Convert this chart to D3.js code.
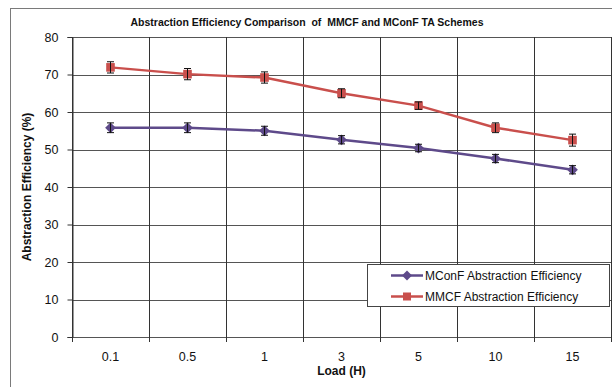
<!DOCTYPE html>
<html>
<head>
<meta charset="utf-8">
<script src="https://cdn.jsdelivr.net/npm/d3@7"></script>
<style>
  body { margin: 0; background: #fff; }
  svg { display: block; font-family: "Liberation Sans", Arial, sans-serif; }
</style>
</head>
<body>
<div id="chart"></div>
<script>
// data
var loads = ["0.1", "0.5", "1", "3", "5", "10", "15"];
var mconf = [55.8, 55.8, 55.0, 52.6, 50.4, 47.6, 44.6];
var mconfErr = [1.3, 1.3, 1.2, 1.1, 1.0, 1.1, 1.1];
var mmcf = [71.9, 70.1, 69.2, 65.0, 61.7, 55.8, 52.5];
var mmcfErr = [1.5, 1.5, 1.5, 1.2, 1.0, 1.3, 1.6];
var yTicks = [0, 10, 20, 30, 40, 50, 60, 70, 80];

//svg dimensions
var svgWidth = 612;
var svgHeight = 387;
var margin = { top: 37, right: 1, bottom: 50, left: 72 };
var width = svgWidth - margin.left - margin.right;
var height = svgHeight - margin.top - margin.bottom;

var svg = d3.select("#chart").append("svg")
    .attr("width", svgWidth)
    .attr("height", svgHeight);

//outer chart border
svg.append("rect")
    .attr("x", 10.5).attr("y", 8.5)
    .attr("width", svgWidth).attr("height", svgHeight)
    .attr("fill", "none")
    .attr("stroke", "#7a7a7a");

var chartGroup = svg.append("g")
    .attr("transform", `translate(${margin.left}, ${margin.top})`);

//scales
var xScale = d3.scaleBand().domain(loads).range([0, width]);
var yScale = d3.scaleLinear().domain([0, 80]).range([height, 0]);

//horizontal gridlines
chartGroup.selectAll(".hgrid")
    .data(yTicks)
    .enter()
    .append("line")
    .attr("x1", 0).attr("x2", width)
    .attr("y1", d => Math.round(yScale(d)) + 0.5)
    .attr("y2", d => Math.round(yScale(d)) + 0.5)
    .attr("stroke", "#555");

//vertical gridlines at band edges
var edges = loads.map(d => xScale(d)).concat([width]);
chartGroup.selectAll(".vgrid")
    .data(edges)
    .enter()
    .append("line")
    .attr("x1", d => Math.round(d) + 0.5)
    .attr("x2", d => Math.round(d) + 0.5)
    .attr("y1", 0).attr("y2", height + 5)
    .attr("stroke", "#333");

//y axis
var yAxis = chartGroup.append("g")
    .attr("transform", "translate(0.5,0)")
    .call(d3.axisLeft(yScale).tickValues(yTicks).tickSize(5).tickPadding(9));
yAxis.select(".domain").attr("stroke", "#333");
yAxis.selectAll("line").attr("stroke", "#333");
yAxis.selectAll("text").attr("font-size", "12.5px").attr("fill", "#111")
    .attr("font-family", "Liberation Sans, Arial, sans-serif");

//x tick labels
chartGroup.selectAll(".xlab")
    .data(loads)
    .enter()
    .append("text")
    .attr("x", d => xScale(d) + xScale.bandwidth() / 2)
    .attr("y", height + 24)
    .attr("text-anchor", "middle")
    .attr("font-size", "12.5px")
    .attr("fill", "#111")
    .text(d => d);

//line generators
var lineGen = d3.line()
    .x((d, i) => xScale(loads[i]) + xScale.bandwidth() / 2)
    .y(d => yScale(d));

var series = [
    { name: "MConF Abstraction Efficiency", values: mconf, err: mconfErr, color: "#5e4a8a", shape: "diamond" },
    { name: "MMCF Abstraction Efficiency", values: mmcf, err: mmcfErr, color: "#c94f4c", shape: "square" }
];

function drawMarker(g, shape, color, cx, cy, r) {
    if (shape === "square") {
        g.append("rect")
            .attr("x", cx - r).attr("y", cy - r)
            .attr("width", 2 * r).attr("height", 2 * r)
            .attr("fill", color);
    } else {
        var q = r * 1.25;
        g.append("path")
            .attr("d", `M${cx},${cy - q}L${cx + q},${cy}L${cx},${cy + q}L${cx - q},${cy}Z`)
            .attr("fill", color);
    }
}

series.forEach(function (s) {
    chartGroup.append("path")
        .datum(s.values)
        .attr("d", lineGen)
        .attr("fill", "none")
        .attr("stroke", s.color)
        .attr("stroke-width", 2.5);

    s.values.forEach(function (v, i) {
        var cx = xScale(loads[i]) + xScale.bandwidth() / 2;
        var cy = yScale(v);
        drawMarker(chartGroup, s.shape, s.color, cx, cy, 4.3);
        //error bar
        var top = yScale(v + s.err[i]);
        var bot = yScale(v - s.err[i]);
        var eb = chartGroup.append("g").attr("stroke", "#111").attr("stroke-width", 1);
        eb.append("line").attr("x1", cx).attr("x2", cx).attr("y1", top).attr("y2", bot);
        eb.append("line").attr("x1", cx - 3.5).attr("x2", cx + 3.5).attr("y1", top).attr("y2", top);
        eb.append("line").attr("x1", cx - 3.5).attr("x2", cx + 3.5).attr("y1", bot).attr("y2", bot);
    });
});

//legend
var legend = svg.append("g").attr("transform", "translate(367, 264)");
legend.append("rect")
    .attr("x", 0.5).attr("y", 0.5)
    .attr("width", 242).attr("height", 42)
    .attr("fill", "#fff")
    .attr("stroke", "#444");
series.forEach(function (s, i) {
    var ly = 11.5 + i * 21;
    legend.append("line")
        .attr("x1", 24).attr("x2", 56)
        .attr("y1", ly).attr("y2", ly)
        .attr("stroke", s.color).attr("stroke-width", 2.5);
    drawMarker(legend, s.shape, s.color, 40, ly, 4);
    legend.append("text")
        .attr("x", 58).attr("y", ly + 4)
        .attr("font-size", "12px")
        .attr("fill", "#111")
        .text(s.name);
});

//title
svg.append("text")
    .attr("x", 307).attr("y", 26)
    .attr("text-anchor", "middle")
    .attr("font-size", "10.5px")
    .attr("font-weight", "bold")
    .attr("fill", "#111")
    .attr("xml:space", "preserve")
    .style("white-space", "pre")
    .text("Abstraction Efficiency Comparison  of  MMCF and MConF TA Schemes");

//axis titles
svg.append("text")
    .attr("x", margin.left + width / 2).attr("y", 375)
    .attr("text-anchor", "middle")
    .attr("font-size", "12px")
    .attr("font-weight", "bold")
    .attr("fill", "#111")
    .text("Load (H)");

svg.append("text")
    .attr("transform", `translate(31, ${margin.top + height / 2}) rotate(-90)`)
    .attr("text-anchor", "middle")
    .attr("font-size", "12px")
    .attr("font-weight", "bold")
    .attr("fill", "#111")
    .text("Abstraction Efficiency (%)");
</script>
</body>
</html>
